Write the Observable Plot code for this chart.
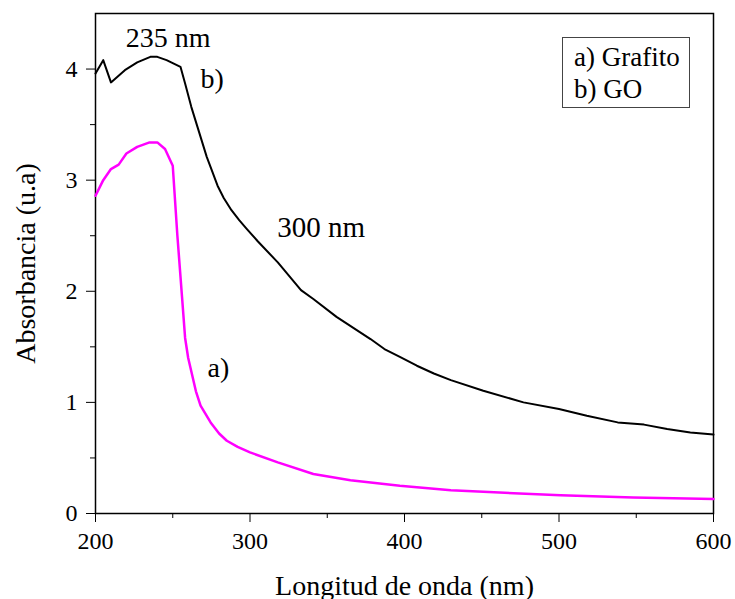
<!DOCTYPE html>
<html>
<head>
<meta charset="utf-8">
<script src="https://cdn.jsdelivr.net/npm/d3@7"></script>
<script src="https://cdn.jsdelivr.net/npm/@observablehq/plot@0.6"></script>
<style>
  html, body { margin: 0; padding: 0; background: #fff; }
  #wrap { position: relative; width: 735px; height: 599px; }
  #legend {
    position: absolute; left: 562px; top: 37px; width: 128px; height: 71px;
    border: 1px solid #444; box-sizing: border-box;
    font-family: "Liberation Serif", "Times New Roman", serif; font-size: 27px;
    line-height: 32px; padding: 3px 0 0 11px; color: #000; white-space: nowrap;
  }
</style>
</head>
<body>
<div id="wrap"><div id="legend"><div>a) Grafito</div><div>b) GO</div></div></div>
<script>
// GO (b) series
const goX = [200, 205, 210, 219, 227, 235.5, 240, 246, 255, 258, 262, 266, 272, 275, 279, 283, 288, 293, 298, 305, 318, 333, 341, 356, 378, 387, 397, 408, 419, 430, 451, 477, 500, 518, 538, 555, 570, 585, 600];
const goY = [3.96, 4.08, 3.88, 3.99, 4.06, 4.11, 4.11, 4.08, 4.02, 3.87, 3.66, 3.48, 3.21, 3.10, 2.95, 2.84, 2.73, 2.64, 2.56, 2.45, 2.26, 2.01, 1.93, 1.77, 1.57, 1.48, 1.41, 1.33, 1.26, 1.20, 1.105, 1.00, 0.94, 0.88, 0.82, 0.80, 0.76, 0.73, 0.71];
// Grafito (a) series
const grX = [200, 205, 210, 215, 220, 227, 235, 240, 245, 250, 253, 256, 258, 260, 265, 268, 274.5, 280, 285, 292, 300, 318, 341, 365, 397, 430, 451, 501, 548, 600];
const grY = [2.86, 3.00, 3.10, 3.14, 3.24, 3.30, 3.34, 3.34, 3.28, 3.13, 2.50, 1.95, 1.58, 1.40, 1.10, 0.97, 0.82, 0.72, 0.655, 0.60, 0.55, 0.46, 0.355, 0.30, 0.25, 0.21, 0.195, 0.165, 0.145, 0.13];

const xTicks = [200, 300, 400, 500, 600];
const xMinor = [250, 350, 450, 550];
const yTicks = [0, 1, 2, 3, 4];
const yMinor = [0.5, 1.5, 2.5, 3.5];

// annotation texts, anchored in data space (x = centre, y = baseline)
const annText = ["235 nm", "b)", "300 nm", "a)"];
const annX = [247, 275.5, 346, 279.5];
const annY = [4.20, 3.83, 2.49, 1.225];
const annSize = [28, 28, 29, 28];

const xTitle = "Longitud de onda (nm)";
const yTitle = "Absorbancia (u.a)";

const go = goX.map((x, i) => ({x, y: goY[i]}));
const gr = grX.map((x, i) => ({x, y: grY[i]}));
const ann = annText.map((t, i) => ({t, x: annX[i], y: annY[i], s: annSize[i]}));

const font = "Liberation Serif, Times New Roman, serif";

const chart = Plot.plot({
  width: 735,
  height: 599,
  marginLeft: 95,
  marginRight: 22,
  marginTop: 13,
  marginBottom: 86,
  style: {fontFamily: font, fontSize: "24px", color: "#000", background: "#fff"},
  x: {domain: [200, 600]},
  y: {domain: [0, 4.5]},
  marks: [
    Plot.axisX({ticks: xMinor, tickSize: 5, tickWidth: 1.5, text: null, label: null}),
    Plot.axisY({ticks: yMinor, tickSize: 5, tickWidth: 1.5, text: null, label: null}),
    Plot.axisX({ticks: xTicks, tickSize: 9, tickWidth: 1.5, tickPadding: 9, fontSize: 24,
      label: null, tickFormat: d => String(d)}),
    Plot.axisY({ticks: yTicks, tickSize: 9, tickWidth: 1.5, tickPadding: 9, fontSize: 24,
      label: null, tickFormat: d => String(d)}),
    Plot.frame({stroke: "#000", strokeWidth: 1.5}),
    Plot.line(gr, {x: "x", y: "y", stroke: "#ff00ff", strokeWidth: 2.5}),
    Plot.line(go, {x: "x", y: "y", stroke: "#000", strokeWidth: 2}),
    Plot.text(ann, {x: "x", y: "y", text: "t", fontSize: d => d.s, fill: "#000", lineAnchor: "bottom", textAnchor: "middle", fontFamily: font}),
    Plot.text([xTitle], {frameAnchor: "bottom", dy: 81, lineAnchor: "bottom", textAnchor: "middle", fontSize: 28, fill: "#000", fontFamily: font}),
    Plot.text([yTitle], {frameAnchor: "left", dx: -61, rotate: -90, lineAnchor: "bottom", textAnchor: "middle", fontSize: 28, fill: "#000", fontFamily: font})
  ]
});
document.getElementById("wrap").prepend(chart);
chart.style.position = "absolute";
chart.style.left = "0";
chart.style.top = "0";
</script>
</body>
</html>
